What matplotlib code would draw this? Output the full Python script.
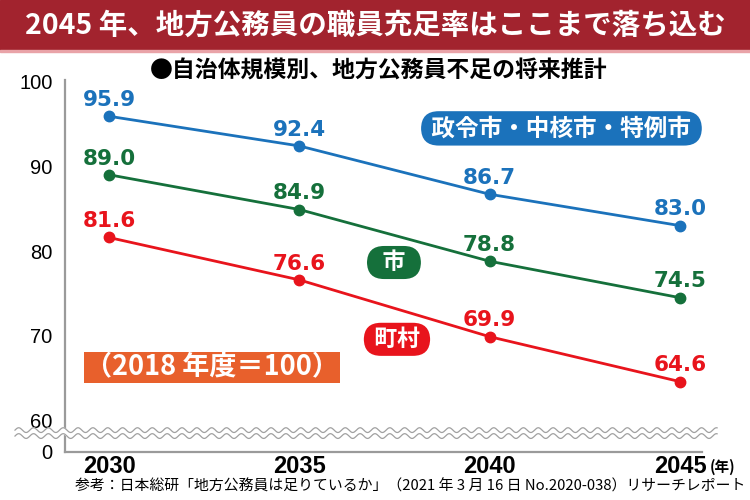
import numpy as np
import matplotlib
matplotlib.use("Agg")
import matplotlib.pyplot as plt
from matplotlib.patches import Rectangle

plt.rcParams['font.family'] = ['Noto Sans CJK JP', 'DejaVu Sans']

# data
years = [2030, 2035, 2040, 2045]
seirei = [95.9, 92.4, 86.7, 83.0]   # 政令市・中核市・特例市
shi = [89.0, 84.9, 78.8, 74.5]      # 市
chouson = [81.6, 76.6, 69.9, 64.6]  # 町村
ytick_vals = [60, 70, 80, 90, 100]
xtick_labels = ['2030', '2035', '2040', '2045']

blue = '#1b72bb'
green = '#15703b'
red = '#e8141c'
orange = '#e8602c'
banner = '#a2232e'

fig = plt.figure(figsize=(7.5, 5), dpi=100)

# title banner
fig.patches.append(Rectangle((0, 0.9), 1, 0.1, transform=fig.transFigure,
                             color=banner, zorder=0))
fig.patches.append(Rectangle((0, 0.896), 1, 0.004, transform=fig.transFigure,
                             color='#e9a3a8', zorder=0))
fig.text(0.5, 0.949, '2045 年、地方公務員の職員充足率はここまで落ち込む',
         ha='center', va='center', color='white', fontsize=20.5, fontweight='bold')
fig.text(0.505, 0.857, '●自治体規模別、地方公務員不足の将来推計',
         ha='center', va='center', color='black', fontsize=16.5, fontweight='bold')

ax = fig.add_axes([0.08667, 0.096, 0.8493, 0.7444])
ax.set_xlim(2028.844, 2045.578)
ax.set_ylim(56.41, 100.2)

for vals, c in [(seirei, blue), (shi, green), (chouson, red)]:
    ax.plot(years, vals, color=c, lw=2, marker='o', ms=7.5, zorder=3, clip_on=False)
    for x, y in zip(years, vals):
        ax.annotate(f'{y:.1f}', (x, y), xytext=(0, 4.5), textcoords='offset points',
                    ha='center', va='bottom', color=c, fontsize=15.5,
                    fontweight='bold', family='DejaVu Sans')

for s in ['top', 'right']:
    ax.spines[s].set_visible(False)
for s in ['left', 'bottom']:
    ax.spines[s].set_color('#9a9a9a')
    ax.spines[s].set_linewidth(1.6)

ax.set_yticks(ytick_vals + [56.3])
ax.set_yticklabels([str(v) for v in ytick_vals] + ['0'], fontsize=14.5,
                   family='Liberation Sans')
ax.tick_params(axis='y', length=0, pad=9)
ax.set_xticks(years)
ax.set_xticklabels(xtick_labels, fontsize=17, fontweight='bold',
                   family='Liberation Sans')
ax.tick_params(axis='x', length=0, pad=2.5)
ax.text(2045.78, 54.5, '(年)', ha='left', va='center', fontsize=10.5,
        fontweight='bold')

# axis break
xw = np.linspace(2027.53, 2045.975, 1000)
w = 0.28 * np.sin(2 * np.pi * (xw - 2027.53) / 0.39)
ax.fill_between(xw, 58.18 + w, 58.88 + w, color='white', zorder=5, clip_on=False)
ax.plot(xw, 58.88 + w, color='#a0a0a0', lw=0.9, zorder=6, clip_on=False)
ax.plot(xw, 58.18 + w, color='#a0a0a0', lw=0.9, zorder=6, clip_on=False)

# series labels
ax.text(2041.886, 94.47, ' 政令市・中核市・特例市 ', ha='center', va='center',
        color='white', fontsize=17, fontweight='bold',
        bbox=dict(boxstyle='round,pad=0.22,rounding_size=0.75', fc=blue, ec='none'))
ax.text(2037.486, 78.65, '  市  ', ha='center', va='center',
        color='white', fontsize=16.5, fontweight='bold',
        bbox=dict(boxstyle='round,pad=0.22,rounding_size=0.75', fc=green, ec='none'))
ax.text(2037.565, 69.59, ' 町村 ', ha='center', va='center',
        color='white', fontsize=16.5, fontweight='bold',
        bbox=dict(boxstyle='round,pad=0.22,rounding_size=0.75', fc=red, ec='none'))
ax.text(2029.37, 66.24, '（2018 年度＝100）', ha='left', va='center',
        color='white', fontsize=19.5, fontweight='bold',
        bbox=dict(boxstyle='square,pad=0.05', fc=orange, ec='none'))

fig.text(0.547, 0.028, '参考：日本総研「地方公務員は足りているか」（2021 年 3 月 16 日 No.2020-038）リサーチレポート',
         ha='center', va='center', fontsize=10.7)

fig.savefig('out.png', dpi=100)
